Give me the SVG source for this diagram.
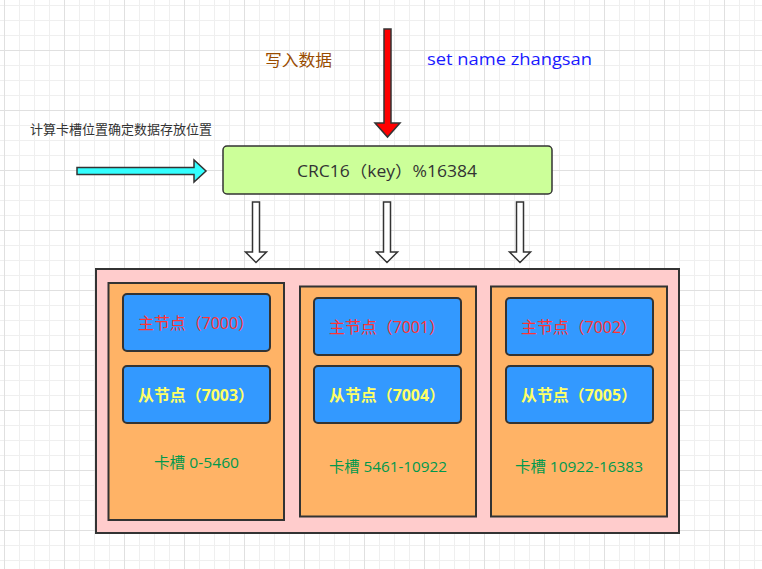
<svg xmlns="http://www.w3.org/2000/svg" width="762" height="569" viewBox="0 0 762 569">
<defs>
<pattern id="grid" patternUnits="userSpaceOnUse" x="4" y="-10" width="60" height="60">
<rect x="0" y="0" width="60" height="60" fill="#ffffff"/>
<g fill="#efefef">
<rect x="15" y="0" width="1" height="60"/><rect x="30" y="0" width="1" height="60"/><rect x="45" y="0" width="1" height="60"/>
<rect x="0" y="15" width="60" height="1"/><rect x="0" y="30" width="60" height="1"/><rect x="0" y="45" width="60" height="1"/>
</g>
<g fill="#e0e0e0">
<rect x="0" y="0" width="1" height="60"/><rect x="0" y="0" width="60" height="1"/>
</g>
</pattern>
<style>
.t{font-family:"Open Sans","Noto Sans CJK SC",sans-serif;}
.col{fill:#ffb366;stroke:#333333;stroke-width:2;}
.node{fill:#3399ff;stroke:#333333;stroke-width:2;}
.m{font-size:16px;fill:#ff3333;text-anchor:middle;}
.s{font-size:16px;fill:#ffff66;font-weight:bold;text-anchor:middle;}
.slot{font-size:15px;fill:#00994d;text-anchor:middle;}
.hollow{fill:#ffffff;stroke:#333333;stroke-width:1.5;stroke-linejoin:miter;}
</style>
</defs>
<rect width="762" height="569" fill="url(#grid)"/>

<g id="labels">
<text class="t" x="265" y="66" font-size="16" fill="#994c00" textLength="67" lengthAdjust="spacingAndGlyphs">写入数据</text>
<text class="t" x="427" y="65" font-size="16" fill="#1a1aff" textLength="165" lengthAdjust="spacingAndGlyphs">set name zhangsan</text>
<text class="t" x="30" y="134" font-size="13" fill="#333333" textLength="182" lengthAdjust="spacingAndGlyphs">计算卡槽位置确定数据存放位置</text>
</g>

<g id="connectors">
<path d="M384,29 H391 V123 H400 L387.5,137 L375,123 H384 Z" fill="#ff0000" stroke="#333333" stroke-width="1.5" stroke-linejoin="miter"/>
<path d="M77,167.5 H194 V160 L206,171 L194,182 V174.5 H77 Z" fill="#33ffff" stroke="#333333" stroke-width="1.5"/>
<path class="hollow" d="M252.5,202 H259.5 V252 H266.5 L256,262.5 L245.5,252 H252.5 Z"/>
<path class="hollow" d="M383.5,202 H390.5 V252 H397.5 L387,262.5 L376.5,252 H383.5 Z"/>
<path class="hollow" d="M516.5,202 H523.5 V252 H530.5 L520,262.5 L509.5,252 H516.5 Z"/>
</g>

<g id="crc">
<rect x="223" y="146" width="329" height="48" rx="4" fill="#ccff99" stroke="#333333" stroke-width="1.5"/>
<text class="t" x="297" y="177" font-size="16" fill="#333333" textLength="180" lengthAdjust="spacingAndGlyphs">CRC16（key）%16384</text>
</g>

<g id="cluster">
<rect x="96" y="269" width="583" height="264" fill="#ffcccc" stroke="#333333" stroke-width="2"/>
</g>

<g id="slot1">
<rect class="col" x="108.5" y="283" width="175.5" height="237"/>
<text class="t slot" x="196.5" y="468" textLength="85" lengthAdjust="spacingAndGlyphs">卡槽 0-5460</text>
</g>
<g id="slot2">
<rect class="col" x="300" y="286.5" width="176" height="230"/>
<text class="t slot" x="388" y="472" textLength="118" lengthAdjust="spacingAndGlyphs">卡槽 5461-10922</text>
</g>
<g id="slot3">
<rect class="col" x="491" y="286.5" width="176" height="230"/>
<text class="t slot" x="579" y="472" textLength="128" lengthAdjust="spacingAndGlyphs">卡槽 10922-16383</text>
</g>

<g id="master7000">
<rect class="node" x="123" y="294" width="147" height="57" rx="4"/>
<text class="t m" x="196" y="329" textLength="116" lengthAdjust="spacingAndGlyphs">主节点（7000）</text>
</g>
<g id="slave7003">
<rect class="node" x="123" y="366" width="147" height="57" rx="4"/>
<text class="t s" x="196" y="401" textLength="116" lengthAdjust="spacingAndGlyphs">从节点（7003）</text>
</g>
<g id="master7001">
<rect class="node" x="314" y="298" width="147" height="57" rx="4"/>
<text class="t m" x="387" y="333" textLength="116" lengthAdjust="spacingAndGlyphs">主节点（7001）</text>
</g>
<g id="slave7004">
<rect class="node" x="314" y="366" width="147" height="57" rx="4"/>
<text class="t s" x="387" y="401" textLength="116" lengthAdjust="spacingAndGlyphs">从节点（7004）</text>
</g>
<g id="master7002">
<rect class="node" x="506" y="298" width="147" height="57" rx="4"/>
<text class="t m" x="579" y="333" textLength="116" lengthAdjust="spacingAndGlyphs">主节点（7002）</text>
</g>
<g id="slave7005">
<rect class="node" x="506" y="366" width="147" height="57" rx="4"/>
<text class="t s" x="579" y="401" textLength="116" lengthAdjust="spacingAndGlyphs">从节点（7005）</text>
</g>
</svg>
